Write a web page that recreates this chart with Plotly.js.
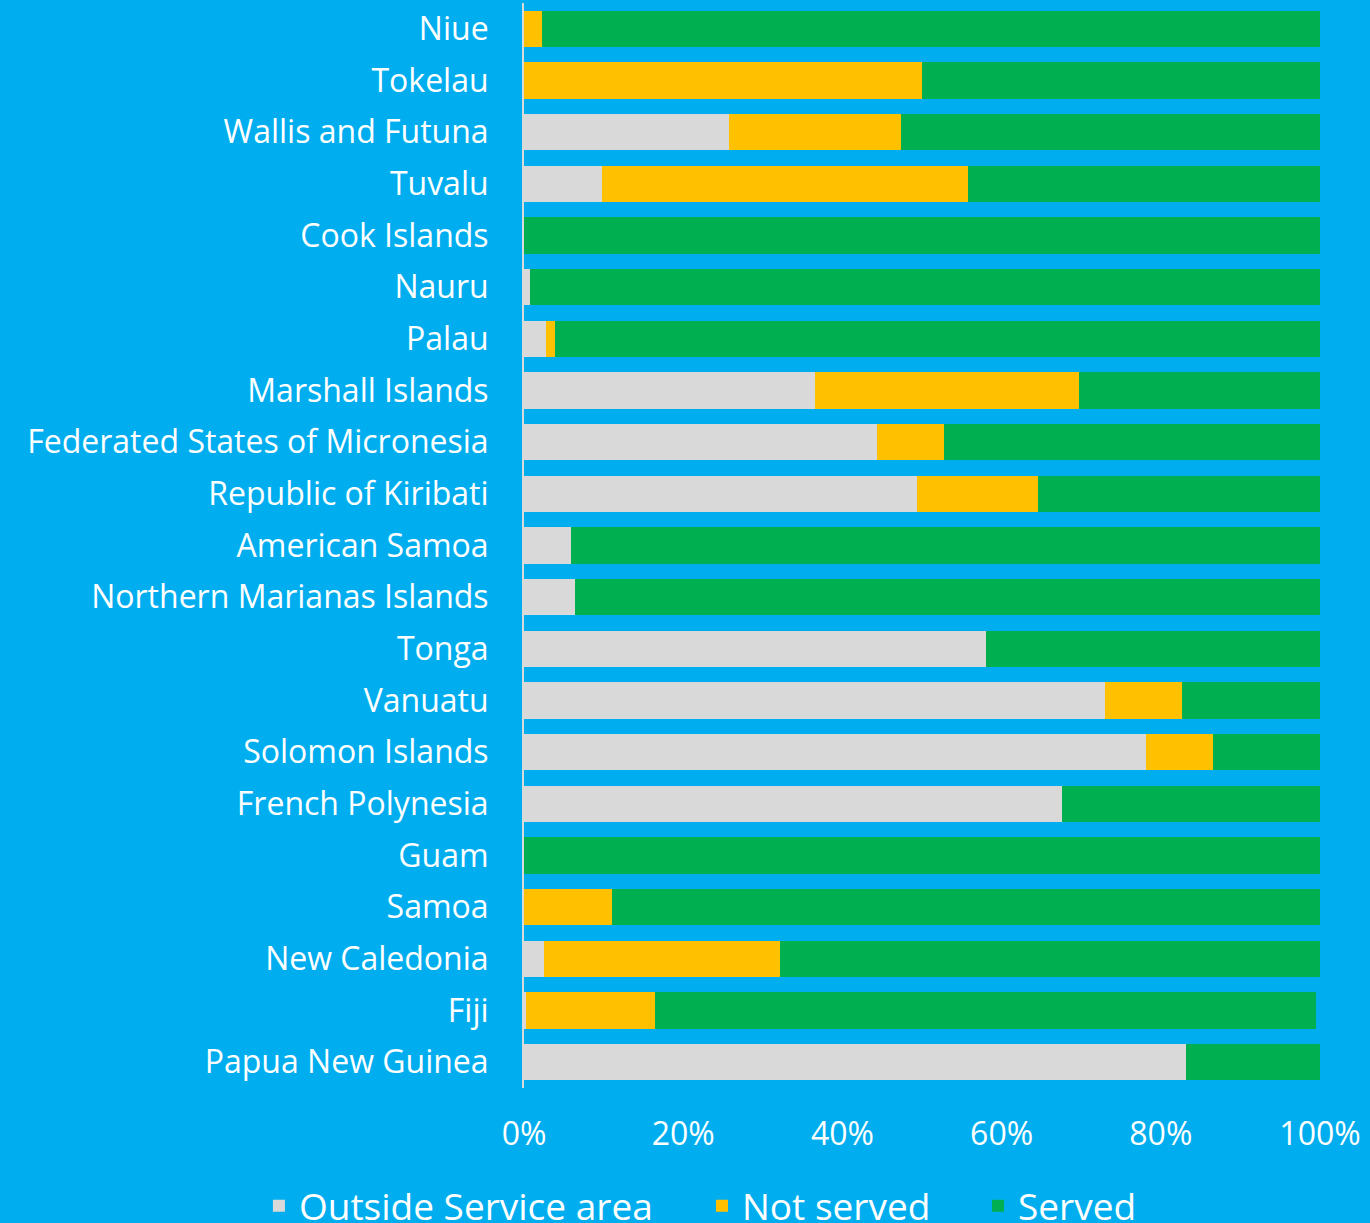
<!DOCTYPE html>
<html>
<head>
<meta charset="utf-8">
<script src="https://cdn.plot.ly/plotly-3.0.1.min.js"></script>
<style>html,body{margin:0;padding:0;background:#00AEEF;overflow:hidden}#chart{width:1370px;height:1223px}</style>
</head>
<body>
<div id="chart"></div>
<script>
const categories = ["Niue","Tokelau","Wallis and Futuna","Tuvalu","Cook Islands","Nauru","Palau","Marshall Islands","Federated States of Micronesia","Republic of Kiribati","American Samoa","Northern Marianas Islands","Tonga","Vanuatu","Solomon Islands","French Polynesia","Guam","Samoa","New Caledonia","Fiji","Papua New Guinea"];
const outsideServiceArea = [0, 0, 25.8, 9.8, 0, 0.7, 2.8, 36.6, 44.4, 49.4, 5.9, 6.4, 58.1, 73.0, 78.2, 67.6, 0, 0, 2.5, 0.2, 83.2];
const notServed = [2.3, 50.0, 21.6, 46.0, 0, 0, 1.1, 33.1, 8.4, 15.2, 0, 0, 0, 9.7, 8.3, 0, 0, 11.0, 29.7, 16.3, 0];
const served = [97.7, 50.0, 52.6, 44.2, 100, 99.3, 96.1, 30.3, 47.2, 35.4, 94.1, 93.6, 41.9, 17.3, 13.5, 32.4, 100, 89.0, 67.8, 83.0, 16.8];
const tickValues = [0, 20, 40, 60, 80, 100];
const tickLabels = ["0%","20%","40%","60%","80%","100%"];

const FONT = "'Open Sans', Lato, sans-serif";
function tr(name, vals, color, leg) {
  return {type: 'bar', orientation: 'h', name: name, y: categories, x: vals, legend: leg,
    marker: {color: color, line: {width: 0}}, hoverinfo: 'skip'};
}
const data = [
  tr('Outside Service area', outsideServiceArea, '#D9D9D9', 'legend'),
  tr('Not served', notServed, '#FFC000', 'legend2'),
  tr('Served', served, '#00B050', 'legend3')
];
function leg(x) {
  return {orientation: 'h', xref: 'container', yref: 'container',
    x: x, xanchor: 'left', y: 0.039, yanchor: 'top',
    font: {family: FONT, size: 37, color: '#FFFFFF'},
    bgcolor: 'rgba(0,0,0,0)', itemwidth: 30};
}
const layout = {
  width: 1370, height: 1223,
  paper_bgcolor: '#00AEEF', plot_bgcolor: '#00AEEF',
  barmode: 'stack', bargap: 0.3,
  margin: {l: 524, r: 50, t: 3, b: 135},
  font: {family: FONT, color: '#FFFFFF', size: 32},
  showlegend: true,
  legend: leg(0.189),
  legend2: leg(0.5124),
  legend3: leg(0.7139),
  xaxis: {range: [0, 100], tickvals: tickValues, ticktext: tickLabels, showgrid: false,
    zeroline: false, showline: false, ticks: '', ticklabelstandoff: 24,
    tickfont: {family: FONT, size: 32, color: '#FFFFFF'}, fixedrange: true},
  yaxis: {autorange: 'reversed', type: 'category', showgrid: false, zeroline: false,
    showline: true, linecolor: '#D9D9D9', linewidth: 2, ticks: '',
    ticklabelstandoff: 27, tickfont: {family: FONT, size: 32, color: '#FFFFFF'}, fixedrange: true}
};
Plotly.newPlot('chart', data, layout, {displayModeBar: false, staticPlot: true});
</script>
</body>
</html>
